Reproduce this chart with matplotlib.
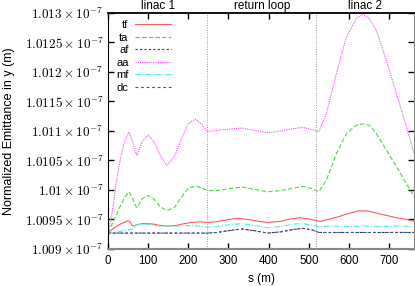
import matplotlib
matplotlib.use("Agg")
import matplotlib.pyplot as plt

# ---------------- data (values in units of 1e-7 m) ----------------
s_aa = [0, 10, 20, 30, 40, 52, 60, 65, 72, 85, 100, 115, 130, 146, 165, 185, 200, 218, 235, 247,
        270, 300, 333, 365, 398, 430, 460, 486, 510, 525, 544, 569, 594, 619, 635, 650, 668, 693,
        718, 743, 762]
aa = [1.00927, 1.0096, 1.0101, 1.0105, 1.0108, 1.01098, 1.01085, 1.01071, 1.01059, 1.01082,
      1.01093, 1.01082, 1.01059, 1.01042, 1.01056, 1.0109, 1.01113, 1.0112, 1.0111, 1.01099,
      1.01101, 1.01103, 1.01105, 1.01101, 1.01097, 1.0110, 1.01104, 1.01106, 1.01102, 1.01099,
      1.0113, 1.01198, 1.0126, 1.01291, 1.01298, 1.01291, 1.01271, 1.0122, 1.01164, 1.01107,
      1.01062]

s_ta = s_aa
ta = [1.00927, 1.00942, 1.00957, 1.00972, 1.00986, 1.00997, 1.00988, 1.00978, 1.0097, 1.00985,
      1.00991, 1.00984, 1.00972, 1.00965, 1.0097, 1.0099, 1.01003, 1.01007, 1.01003, 1.00999,
      1.00999, 1.01002, 1.01005, 1.01001, 1.00997, 1.00999, 1.01003, 1.01006, 1.01002, 1.00997,
      1.01017, 1.01062, 1.01096, 1.0111, 1.01112, 1.0111, 1.01096, 1.01068, 1.0104, 1.01011,
      1.00989]

s_tf = [0, 10, 20, 30, 40, 50, 55, 60, 65, 72, 85, 100, 115, 130, 150, 170, 190, 208, 230, 247,
        270, 300, 322, 350, 375, 398, 430, 455, 477, 500, 519, 530, 560, 594, 619, 635, 650, 668,
        693, 718, 743, 762]
tf = [1.00927, 1.00933, 1.00938, 1.00942, 1.00945, 1.00948, 1.00946, 1.0094, 1.00939, 1.00941,
      1.00943, 1.00943, 1.00942, 1.0094, 1.00939, 1.0094, 1.00943, 1.00945, 1.00946, 1.00945,
      1.00946, 1.0095, 1.00952, 1.0095, 1.00947, 1.00945, 1.00947, 1.00951, 1.00953, 1.00951,
      1.00948, 1.00947, 1.00952, 1.00959, 1.00964, 1.00965, 1.00964, 1.00961, 1.00957, 1.00953,
      1.0095, 1.00947]

s_mf = [0, 20, 40, 60, 66, 68, 72, 85, 100, 115, 130, 150, 175, 200, 225, 247, 270, 300, 333,
        365, 398, 430, 460, 486, 510, 525, 560, 600, 640, 680, 720, 762]
mf = [1.00927, 1.00929, 1.00931, 1.00933, 1.00935, 1.0094, 1.00941, 1.00942, 1.00942, 1.0094,
      1.00939, 1.00939, 1.00939, 1.0094, 1.00939, 1.00937, 1.00938, 1.00941, 1.00943, 1.0094,
      1.00936, 1.00938, 1.00942, 1.00943, 1.0094, 1.00938, 1.00939, 1.00938, 1.00939, 1.00938,
      1.00939, 1.00938]

s_af = [0, 100, 200, 247, 270, 300, 333, 365, 398, 430, 460, 486, 510, 525, 600, 700, 762]
af = [1.00927, 1.00927, 1.00927, 1.00927, 1.00928, 1.00931, 1.00934, 1.00931, 1.00927, 1.00929,
      1.00933, 1.00935, 1.00932, 1.00928, 1.00928, 1.00928, 1.00928]

s_dc = s_af
dc = [1.00927, 1.00927, 1.00927, 1.00927, 1.00928, 1.00931, 1.00934, 1.00931, 1.00927, 1.00929,
      1.00933, 1.00935, 1.00932, 1.00928, 1.00928, 1.00928, 1.00928]

section_edges = [0, 247, 519, 762]
section_labels = ["linac 1", "return loop", "linac 2"]

xticks = [0, 100, 200, 300, 400, 500, 600, 700]
yticks = [1.009, 1.0095, 1.010, 1.0105, 1.011, 1.0115, 1.012, 1.0125, 1.013]
ytick_labels = [r"$1.009\times10^{-7}$", r"$1.0095\times10^{-7}$", r"$1.01\times10^{-7}$",
                r"$1.0105\times10^{-7}$", r"$1.011\times10^{-7}$", r"$1.0115\times10^{-7}$",
                r"$1.012\times10^{-7}$", r"$1.0125\times10^{-7}$", r"$1.013\times10^{-7}$"]

# ---------------- plot ----------------
plt.rcParams["font.family"] = ["Liberation Sans", "DejaVu Sans"]
plt.rcParams["mathtext.fontset"] = "cm"
plt.rcParams["font.size"] = 8

fig = plt.figure(figsize=(4.15, 2.86), dpi=100)
ax = fig.add_axes([108 / 415, 1 - 249 / 286, 306 / 415, 236 / 286])

lw = 0.8
ax.plot(s_tf, tf, color="#ff5a5a", lw=lw, ls="-", label="tf")
ax.plot(s_ta, ta, color="#3ee03e", lw=lw, ls=(0, (4, 2)), label="ta")
ax.plot(s_af, af, color="#2a2ad0", lw=lw, ls=(0, (2, 2)), label="af")
ax.plot(s_aa, aa, color="#ff44ff", lw=lw, ls=(0, (1, 1)), label="aa")
ax.plot(s_mf, mf, color="#44eeee", lw=lw, ls=(0, (5, 1.5, 1, 1.5)), label="mf")
ax.plot(s_dc, dc, color="#555555", lw=lw, ls=(0, (2.5, 2.5)), label="dc")

for e in section_edges[1:-1]:
    ax.axvline(e, color="#999999", lw=0.7, ls=(0, (1, 1.5)))

for i, lab in enumerate(section_labels):
    c = 0.5 * (section_edges[i] + section_edges[i + 1])
    ax.text(c, 1 + 7 / 236, lab, transform=ax.get_xaxis_transform(),
            ha="center", va="center", fontsize=8.5)

ax.set_xlim(section_edges[0], section_edges[-1])
ax.set_ylim(yticks[0], yticks[-1])
ax.set_xticks(xticks)
ax.set_yticks(yticks)
ax.set_yticklabels(ytick_labels, fontsize=9.5)
ax.tick_params(direction="in", length=4, width=1, top=True, right=True, pad=3)
ax.tick_params(axis="x", pad=4, labelsize=8.3)

ax.spines["left"].set_color("black")
ax.spines["top"].set_color("black")
ax.spines["top"].set_linewidth(1.3)
ax.spines["bottom"].set_color("#888888")
ax.spines["bottom"].set_linewidth(1.5)
ax.spines["right"].set_color("#888888")

ax.set_xlabel("s (m)", fontsize=8.5)
ax.xaxis.set_label_coords(0.5, -0.102)
ax.set_ylabel("Normalized Emittance in y (m)", fontsize=9)
ax.yaxis.set_label_coords(-0.305, 0.5)

leg = ax.legend(loc="upper left", bbox_to_anchor=(8 / 306, 1 - 7 / 236), frameon=False,
                markerfirst=False, handlelength=3.2, handletextpad=0.6, labelspacing=0.23,
                borderpad=0, borderaxespad=0, fontsize=8)

fig.savefig("out.png", dpi=100)
